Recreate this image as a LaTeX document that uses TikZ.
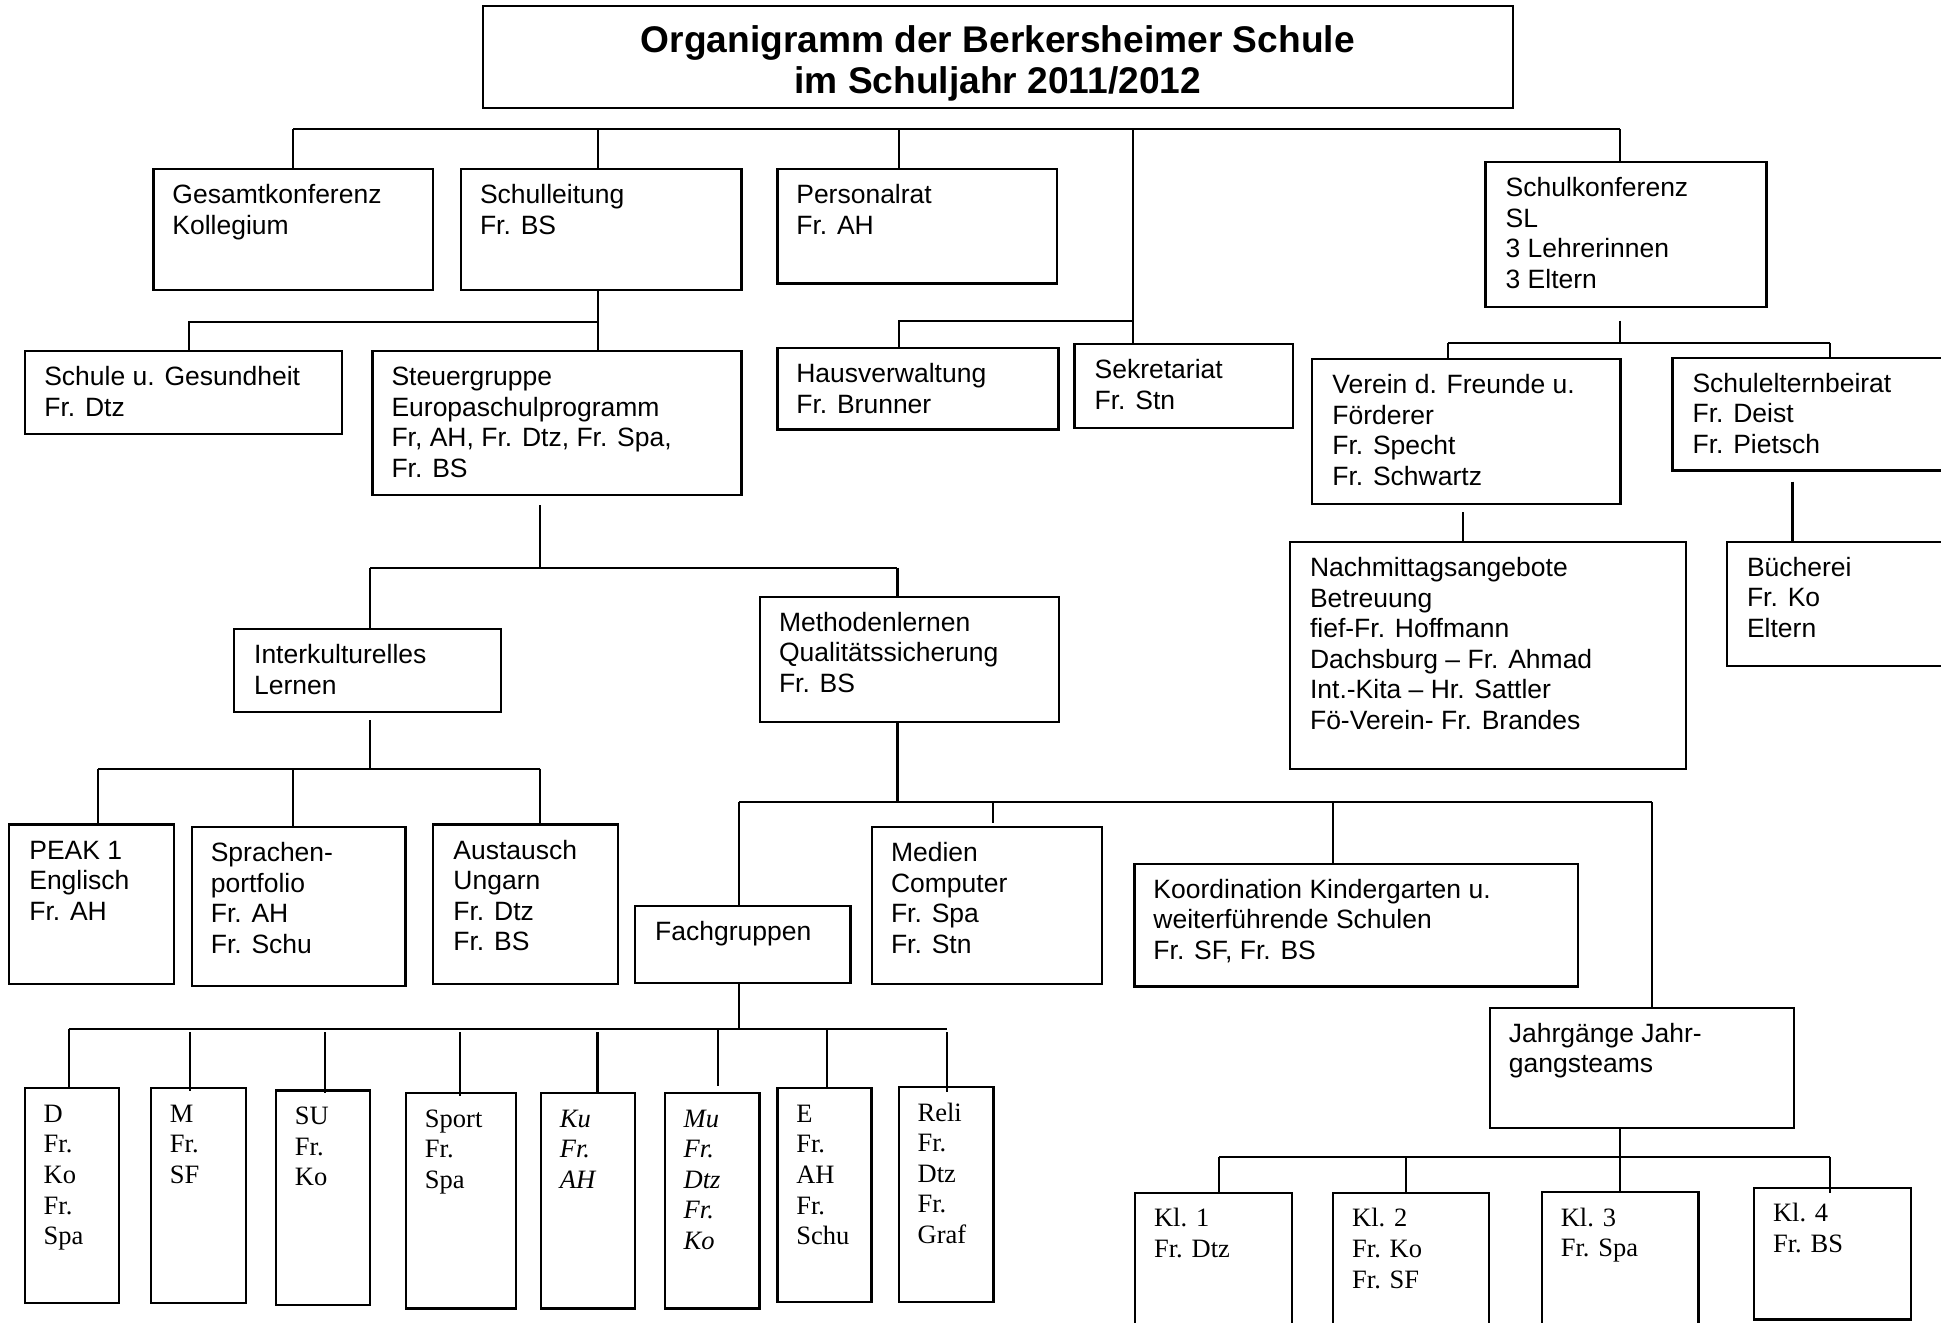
\documentclass[tikz,border=0pt]{standalone}
\usepackage{fontspec}
\setmainfont{Liberation Sans}
\newfontfamily\serifface{Liberation Serif}
\usetikzlibrary{fit}
\newcommand{\boxlines}[1]{\parbox[t]{420pt}{\raggedright #1}}
\tikzset{
  obox/.style={draw, line width=1.8pt, inner sep=0pt},
  txt/.style={anchor=base west, inner sep=0pt, font=\fontsize{21.4}{24.6}\selectfont},
  stxt/.style={anchor=base west, inner sep=0pt, font=\serifface\fontsize{21.4}{24.7}\selectfont},
  conn/.style={line width=1.7pt},
}
\begin{document}
\begin{tikzpicture}[x=1pt,y=-1pt]
\path[use as bounding box, clip] (0,0) rectangle (1568,1068);
\fill[white] (0,0) rectangle (1568,1068);

% ---------- title ----------
\node[obox, fit={(390,5) (1222,87.5)}] (title) {};
\node[anchor=base, inner sep=0pt, font=\bfseries\fontsize{30}{33}\selectfont] (title-t) at (806,42.5)
  {\parbox[t]{820pt}{\centering Organigramm der Berkersheimer Schule\\im Schuljahr 2011/2012}};

% ---------- boxes (sans) ----------
\node[obox, fit={(124,136.5) (350,234)}] (gk) {};
\node[txt] (gk-t) at ([shift={(16,29)}]gk.north west) {\boxlines{Gesamtkonferenz\\Kollegium}};

\node[obox, fit={(372.5,136.5) (599,234)}] (sl) {};
\node[txt] (sl-t) at ([shift={(16,29)}]sl.north west) {\boxlines{Schulleitung\\Fr. BS}};

\node[obox, fit={(628,136.5) (854,229)}] (pr) {};
\node[txt] (pr-t) at ([shift={(16,29)}]pr.north west) {\boxlines{Personalrat\\Fr. AH}};

\node[obox, fit={(1200,131) (1427,248)}] (skonf) {};
\node[txt] (skonf-t) at ([shift={(17,29)}]skonf.north west) {\boxlines{Schulkonferenz\\SL\\3 Lehrerinnen\\3 Eltern}};

\node[obox, fit={(20.5,283.5) (276.5,350.5)}] (sg) {};
\node[txt] (sg-t) at ([shift={(16,29)}]sg.north west) {\boxlines{Schule u. Gesundheit\\Fr. Dtz}};

\node[obox, fit={(301,283.5) (599,400)}] (steu) {};
\node[txt] (steu-t) at ([shift={(16,29)}]steu.north west) {\boxlines{Steuergruppe\\Europaschulprogramm\\Fr, AH, Fr. Dtz, Fr. Spa,\\Fr. BS}};

\node[obox, fit={(628,281) (855,347)}] (hv) {};
\node[txt] (hv-t) at ([shift={(16,29)}]hv.north west) {\boxlines{Hausverwaltung\\Fr. Brunner}};

\node[obox, fit={(868,278) (1044.5,345.5)}] (sek) {};
\node[txt] (sek-t) at ([shift={(17,29)}]sek.north west) {\boxlines{Sekretariat\\Fr. Stn}};

\node[obox, fit={(1060,290) (1309,407)}] (ver) {};
\node[txt] (ver-t) at ([shift={(17,29)}]ver.north west) {\boxlines{Verein d. Freunde u.\\Förderer\\Fr. Specht\\Fr. Schwartz}};

\node[obox, fit={(1351,289) (1600,380)}] (seb) {};
\node[txt] (seb-t) at ([shift={(17,29)}]seb.north west) {\boxlines{Schulelternbeirat\\Fr. Deist\\Fr. Pietsch}};

\node[obox, fit={(1042,438) (1362,621)}] (nach) {};
\node[txt] (nach-t) at ([shift={(17,29)}]nach.north west) {\boxlines{Nachmittagsangebote\\Betreuung\\fief-Fr. Hoffmann\\Dachsburg – Fr. Ahmad\\Int.-Kita – Hr. Sattler\\Fö-Verein- Fr. Brandes}};

\node[obox, fit={(1395,437.6) (1600,538)}] (bue) {};
\node[txt] (bue-t) at ([shift={(17,29)}]bue.north west) {\boxlines{Bücherei\\Fr. Ko\\Eltern}};

\node[obox, fit={(189,508) (404.5,575)}] (ik) {};
\node[txt] (ik-t) at ([shift={(17,29)}]ik.north west) {\boxlines{Interkulturelles\\Lernen}};

\node[obox, fit={(614,482) (855.6,583)}] (me) {};
\node[txt] (me-t) at ([shift={(16,29)}]me.north west) {\boxlines{Methodenlernen\\Qualitätssicherung\\Fr. BS}};

\node[obox, fit={(7.4,666) (140.5,795)}] (peak) {};
\node[txt] (peak-t) at ([shift={(17,29)}]peak.north west) {\boxlines{PEAK 1\\Englisch\\Fr. AH}};

\node[obox, fit={(155,668) (327.5,796.5)}] (spr) {};
\node[txt] (spr-t) at ([shift={(16,29)}]spr.north west) {\boxlines{Sprachen-\\portfolio\\Fr. AH\\Fr. Schu}};

\node[obox, fit={(350,666) (499,795)}] (aus) {};
\node[txt] (aus-t) at ([shift={(17,29)}]aus.north west) {\boxlines{Austausch\\Ungarn\\Fr. Dtz\\Fr. BS}};

\node[obox, fit={(513,732) (687,794)}] (fg) {};
\node[txt] (fg-t) at ([shift={(17,29)}]fg.north west) {\boxlines{Fachgruppen}};

\node[obox, fit={(704.5,668) (890,795)}] (med) {};
\node[txt] (med-t) at ([shift={(16,29)}]med.north west) {\boxlines{Medien\\Computer\\Fr. Spa\\Fr. Stn}};

\node[obox, fit={(916.5,698) (1275,797)}] (koo) {};
\node[txt] (koo-t) at ([shift={(16,28.5)}]koo.north west) {\boxlines{Koordination Kindergarten u.\\weiterführende Schulen\\Fr. SF, Fr. BS}};

\node[obox, fit={(1203.6,814) (1449,911)}] (jg) {};
\node[txt] (jg-t) at ([shift={(16,29)}]jg.north west) {\boxlines{Jahrgänge Jahr-\\gangsteams}};

% ---------- subject boxes (serif) ----------
\node[obox, fit={(20,879) (96,1052.6)}] (fD) {};
\node[stxt] (fD-t) at ([shift={(16,28.5)}]fD.north west) {\boxlines{D\\Fr.\\Ko\\Fr.\\Spa}};

\node[obox, fit={(122,879) (199,1052.6)}] (fM) {};
\node[stxt] (fM-t) at ([shift={(16,28.5)}]fM.north west) {\boxlines{M\\Fr.\\SF}};

\node[obox, fit={(223,881) (299,1054)}] (fSU) {};
\node[stxt] (fSU-t) at ([shift={(16,28.5)}]fSU.north west) {\boxlines{SU\\Fr.\\Ko}};

\node[obox, fit={(328,883) (417,1057)}] (fSp) {};
\node[stxt] (fSp-t) at ([shift={(16,28.5)}]fSp.north west) {\boxlines{Sport\\Fr.\\Spa}};

\node[obox, fit={(437,883) (513,1057)}] (fKu) {};
\node[stxt] (fKu-t) at ([shift={(16,28.5)}]fKu.north west) {\boxlines{\itshape Ku\\Fr.\\AH}};

\node[obox, fit={(537,883) (613.6,1057)}] (fMu) {};
\node[stxt] (fMu-t) at ([shift={(16,28.5)}]fMu.north west) {\boxlines{\itshape Mu\\Fr.\\Dtz\\Fr.\\Ko}};

\node[obox, fit={(628,879) (704,1052)}] (fE) {};
\node[stxt] (fE-t) at ([shift={(16,28.5)}]fE.north west) {\boxlines{E\\Fr.\\AH\\Fr.\\Schu}};

\node[obox, fit={(726,878) (802.6,1052)}] (fR) {};
\node[stxt] (fR-t) at ([shift={(16,28.5)}]fR.north west) {\boxlines{Reli\\Fr.\\Dtz\\Fr.\\Graf}};

% ---------- class boxes (serif) ----------
\node[obox, fit={(917,963.5) (1044,1100)}] (k1) {};
\node[stxt] (k1-t) at ([shift={(16,28.5)}]k1.north west) {\boxlines{Kl. 1\\Fr. Dtz}};

\node[obox, fit={(1077,963.5) (1203,1100)}] (k2) {};
\node[stxt] (k2-t) at ([shift={(16,28.5)}]k2.north west) {\boxlines{Kl. 2\\Fr. Ko\\Fr. SF}};

\node[obox, fit={(1245.6,963) (1372,1100)}] (k3) {};
\node[stxt] (k3-t) at ([shift={(16,28.5)}]k3.north west) {\boxlines{Kl. 3\\Fr. Spa}};

\node[obox, fit={(1417,959.4) (1544,1066)}] (k4) {};
\node[stxt] (k4-t) at ([shift={(16,28.5)}]k4.north west) {\boxlines{Kl. 4\\Fr. BS}};

% ---------- connectors ----------
% top bus
\coordinate (t1) at (237,104.4);
\coordinate (t2) at (483,104.4);
\coordinate (t3) at (726,104.4);
\coordinate (t4) at (915,104.4);
\coordinate (t5) at (1309,104.4);
\draw[conn] (t1) -- (t5);
\draw[conn] (t1) -- (t1 |- gk.north);
\draw[conn] (t2) -- (t2 |- sl.north);
\draw[conn] (t3) -- (t3 |- pr.north);
\draw[conn] (t4) -- (t4 |- sek.north);
\draw[conn] (t5) -- (t5 |- skonf.north);
\coordinate (h1) at (726,259);
\coordinate (h2) at (915,259);
\draw[conn] (h2) -- (h1) -- (h1 |- hv.north);

% Schulleitung
\coordinate (s1) at (483,260);
\coordinate (s2) at (153,260);
\draw[conn] (s1 |- sl.south) -- (s1 |- steu.north);
\draw[conn] (s1) -- (s2) -- (s2 |- sg.north);

% Schulkonferenz
\coordinate (k0) at (1309,259);
\coordinate (kb) at (1309,277);
\coordinate (kl) at (1170,277);
\coordinate (kr) at (1478,277);
\draw[conn] (k0) -- (kb);
\draw[conn] (kl) -- (kr);
\draw[conn] (kl) -- (kl |- ver.north);
\draw[conn] (kr) -- (kr |- seb.north);
\coordinate (v0) at (1182,414);
\draw[conn] (v0) -- (v0 |- nach.north);
\coordinate (b0) at (1448,389);
\draw[conn] (b0) -- (b0 |- bue.north);

% Steuergruppe
\coordinate (g0) at (436,408);
\coordinate (g1) at (436,458.6);
\coordinate (gl) at (299,458.6);
\coordinate (gr) at (725,458.6);
\draw[conn] (g0) -- (g1);
\draw[conn] (gl) -- (gr);
\draw[conn] (gl) -- (gl |- ik.north);
\draw[conn] (gr) -- (gr |- me.north);

% Interkulturelles
\coordinate (i0) at (299,582);
\coordinate (i1) at (299,621);
\coordinate (il) at (79,621);
\coordinate (im) at (237,621);
\coordinate (ir) at (436,621);
\draw[conn] (i0) -- (i1);
\draw[conn] (il) -- (ir);
\draw[conn] (il) -- (il |- peak.north);
\draw[conn] (im) -- (im |- spr.north);
\draw[conn] (ir) -- (ir |- aus.north);

% Methodenlernen
\coordinate (m1) at (725,648);
\coordinate (ml) at (597,648);
\coordinate (m2) at (802,648);
\coordinate (m3) at (1077,648);
\coordinate (mr) at (1334.5,648);
\draw[conn] (m1 |- me.south) -- (m1);
\draw[conn] (ml) -- (mr);
\draw[conn] (ml) -- (ml |- fg.north);
\draw[conn] (m2) -- (802,665);
\draw[conn] (m3) -- (m3 |- koo.north);
\draw[conn] (mr) -- (mr |- jg.north);

% Fachgruppen
\coordinate (f0) at (597,831.5);
\coordinate (fl) at (55.6,831.5);
\coordinate (fr) at (765,831.5);
\draw[conn] (f0 |- fg.south) -- (f0);
\draw[conn] (fl) -- (fr);
\draw[conn] (fl) -- (fl |- fD.north);
\coordinate (fa) at (153.5,834);
\coordinate (fb) at (262.7,834);
\coordinate (fc) at (371.5,834);
\coordinate (fd) at (482.7,834);
\coordinate (fe) at (580,831.5);
\coordinate (ff) at (668,831.5);
\coordinate (fg2) at (765,834);
\draw[conn] (fa) -- ([yshift=-3pt]fa |- fM.north);
\draw[conn] (fb) -- ([yshift=-3pt]fb |- fSU.north);
\draw[conn] (fc) -- ([yshift=-3pt]fc |- fSp.north);
\draw[conn] (fd) -- (fd |- fKu.north);
\draw[conn] (fe) -- ([yshift=5pt]fe |- fMu.north);
\draw[conn] (ff) -- (ff |- fE.north);
\draw[conn] (fg2) -- ([yshift=-5pt]fg2 |- fR.north);

% Jahrgaenge
\coordinate (j0) at (1309,935);
\coordinate (jl) at (985,935);
\coordinate (jm) at (1136,935);
\coordinate (jr) at (1478,935);
\draw[conn] (j0 |- jg.south) -- (j0);
\draw[conn] (jl) -- (jr);
\draw[conn] (jl) -- (jl |- k1.north);
\draw[conn] (jm) -- (jm |- k2.north);
\draw[conn] (j0) -- (j0 |- k3.north);
\draw[conn] (jr) -- (1478,963.5);
\end{tikzpicture}
\end{document}
